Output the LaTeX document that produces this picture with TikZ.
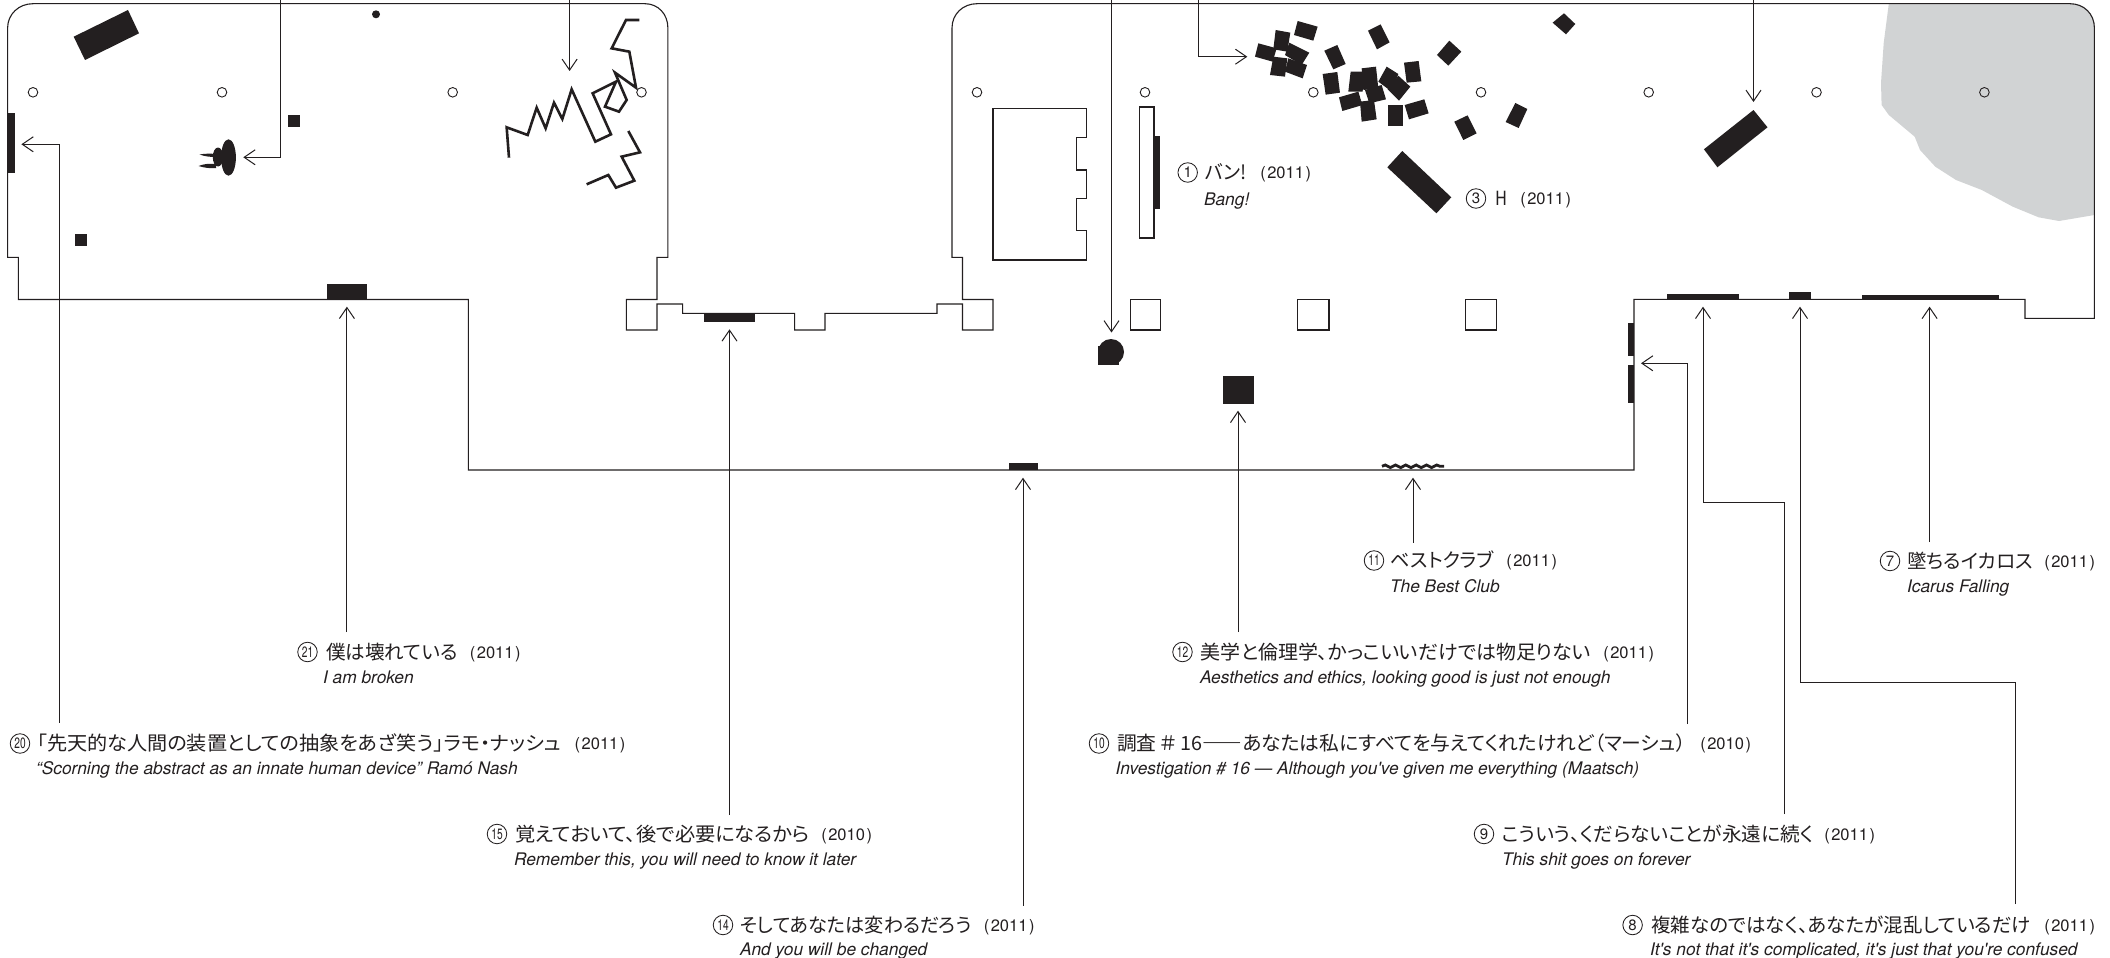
\documentclass[tikz,border=0pt]{standalone}
\usepackage{fontspec}
\usepackage{graphicx}
\usetikzlibrary{arrows.meta,decorations.pathmorphing}
\setmainfont{TeX Gyre Heros}
\newfontfamily\engfont{TeX Gyre Heros}
\newfontfamily\jpfont[RawFeature=+palt]{Noto Sans CJK JP}
\definecolor{ink}{HTML}{231F20}
\definecolor{greyzone}{HTML}{D1D3D4}
\tikzset{
  wall/.style={draw=ink,line width=1.1pt},
  solid block/.style={fill=ink},
  hole/.style={draw=ink,line width=.9pt},
  scribble/.style={draw=ink,line width=2.6pt,line join=miter},
  conn/.style={draw=ink,line width=1pt,-{Straight Barb[length=11pt,width=15pt,line width=1pt]}},
  txt/.style={anchor=base west,inner sep=0pt,outer sep=0pt,text=ink},
  yeartxt/.style={anchor=base east,inner sep=0pt,outer sep=0pt,text=ink},
  numring/.style={circle,draw=ink,line width=.85pt,minimum size=19.5pt,inner sep=0pt,text=ink,font=\engfont\fontsize{15}{15}\selectfont},
}
\newcommand{\nn}[1]{\scalebox{.68}[1]{#1}}
% name, numeral left x, y centre, numeral, japanese, jp left, jp right, year right, year
\newcommand{\worklabel}[9]{%
  \node[numring] (num#1) at (#2+10,#3) {#4};
  \node[txt] (lab#1) at (#6,#3+7) {\resizebox{\dimexpr#7pt-#6pt\relax}{\height}{\jpfont\fontsize{19.5}{20}\selectfont #5}};
  \node[yeartxt] (yr#1) at (#8,#3+6.3) {\engfont\fontsize{16.5}{20}\selectfont (\kern1.5pt #9\kern1.5pt)};
}
\newcommand{\worktrans}[4]{%
  \node[txt] (cap#1) at (#2,#3) {\engfont\itshape\fontsize{17.35}{20}\selectfont #4};
}
\begin{document}
\begin{tikzpicture}[x=1pt,y=-1pt]
\useasboundingbox (0,0) rectangle (2110,958);
\fill[white] (0,0) rectangle (2110,958);
% grey zone
\fill[greyzone] (1888.8,3.7) -- (1883.7,43) -- (1881,83) -- (1881.6,105) -- (1888.8,115) -- (1914.7,136.7) -- (1920,150) -- (1935.3,166.7) -- (1956,180) -- (1981.8,190) -- (2012.8,206.7) -- (2038.6,217.3) -- (2059,221) -- (2094.4,215) -- (2094.4,28) .. controls (2094.4,14) and (2084,3.7) .. (2070,3.7) -- cycle;
% walls
\draw[wall] (7.6,28) .. controls (7.6,14) and (19,3.7) .. (33,3.7) -- (645,3.7) .. controls (658,3.7) and (667.9,14) .. (667.9,28) -- (667.9,257.3) -- (657,257.3) -- (657,299.5) -- (626.3,299.5) -- (626.3,330) -- (657,330) -- (657,304) -- (682.6,304) -- (682.6,313.3) -- (794.6,313.3) -- (794.6,330) -- (825,330) -- (825,313.3) -- (937,313.3) -- (937,304) -- (962.5,304) -- (962.5,330) -- (993,330) -- (993,299.5) -- (962.5,299.5) -- (962.5,257.3) -- (952,257.3) -- (952,28) .. controls (952,14) and (963,3.7) .. (977,3.7) -- (2070,3.7) .. controls (2084,3.7) and (2094.4,14) .. (2094.4,28) -- (2094.4,318.3) -- (2025,318.3) -- (2025,299.3) -- (1634,299.3) -- (1634,470) -- (468.3,470) -- (468.3,299.5) -- (18.3,299.5) -- (18.3,257.3) -- (7.6,257.3) -- cycle;
% inner plan
\draw[wall] (993,108.3) -- (1086.6,108.3) -- (1086.6,137.3) -- (1076.3,137.3) -- (1076.3,170) -- (1086.6,170) -- (1086.6,198.3) -- (1076.3,198.3) -- (1076.3,230.7) -- (1086.6,230.7) -- (1086.6,260) -- (993,260) -- cycle;
\draw[wall] (1139.7,107) rectangle (1154,238);
\draw[wall] (1130.4,299.5) rectangle (1160.7,330);
\draw[wall] (1297.8,299.5) rectangle (1329,330);
\draw[wall] (1465.7,299.5) rectangle (1496.4,330);
% column holes
\foreach \cx in {33,222,452.7,641.5,977,1145,1313.3,1481,1648.7,1816.5,1984.4}
  \draw[hole] (\cx,92.3) circle[radius=4.8];
% solid works
\fill[solid block] (128,10) -- (139,33.3) -- (85,60) -- (73.7,36.7) -- cycle;
\fill[solid block] (376,14.3) circle[radius=4];
\fill[solid block] (288,115) rectangle (300,127);
\fill[solid block] (75,234) rectangle (87,246);
\fill[solid block] (7.6,113) rectangle (15.2,173);
\fill[solid block] (326.8,284) rectangle (367,299.5);
\fill[solid block] (228.5,157.5) ellipse[x radius=7.4,y radius=18.2];
\fill[solid block] (218,157) ellipse[x radius=5.2,y radius=9.5];
\fill[solid block] (199.6,154.5) .. controls (205,153.5) and (210,153.5) .. (216,154) -- (216,157) .. controls (210,157) and (205,156.5) .. (199.6,154.5) -- cycle;
\fill[solid block] (198.5,166) .. controls (205,163.5) and (210,163.5) .. (216,164) -- (216,168) .. controls (210,168.5) and (205,168) .. (198.5,166) -- cycle;
\fill[solid block] (704,313.3) rectangle (755,322);
\fill[solid block] (1154,136) rectangle (1159.8,209);
\fill[solid block] (1111,352) circle[radius=13];
\fill[solid block] (1098.2,345.7) rectangle (1119,365);
\fill[solid block] (1223.2,376) rectangle (1254,404);
\fill[solid block] (1009,463) rectangle (1038,470);
\draw[draw=ink,line width=2.8pt,decorate,decoration={snake,amplitude=1.3pt,segment length=10.3pt}] (1382,466.3) -- (1444,466.3);
\fill[solid block] (1628,322.7) rectangle (1634,356);
\fill[solid block] (1628,365) rectangle (1634,403);
\fill[solid block] (1666.7,294) rectangle (1739,299.3);
\fill[solid block] (1789,292) rectangle (1811,299.3);
\fill[solid block] (1862,295) rectangle (1999,299.3);
\fill[solid block] (1753.5,110) -- (1767.5,127.3) -- (1717.4,167.3) -- (1703.9,149.3) -- cycle;
\fill[solid block] (1402.3,151) -- (1451.3,197.3) -- (1436.4,213.3) -- (1387.3,167.3) -- cycle;
\fill[solid block] (1564,13.3) -- (1575.3,24) -- (1566,34.3) -- (1552.6,22.7) -- cycle;
% scribble
\begin{scope}[x=.33333pt,y=-.33333pt,shift={(1470,30)}]
\draw[scribble] (57,443) -- (50,352) -- (113,375) -- (140,293) -- (167,355) -- (192,278) -- (217,327) -- (245,238) -- (316,395) -- (363,373) -- (308,250) -- (378,215) -- (345,290) -- (387,305) -- (410,270) -- (375,188) -- (438,233) -- (418,125) -- (365,115) -- (408,30) -- (448,30);
\draw[scribble] (415,363) -- (450,427) -- (395,440) -- (433,512) -- (378,533) -- (355,495) -- (290,523);
\end{scope}
% scattered blocks
\begin{scope}[x=.33333pt,y=-.33333pt,shift={(3690,30)}]
\foreach \poly in {
 {(203,33)--(263,50)--(250,92)--(192,75)},
 {(137,60)--(181,68)--(172,125)--(130,118)},
 {(85,100)--(140,115)--(128,155)--(75,140)},
 {(178,98)--(238,128)--(215,165)--(165,135)},
 {(130,140)--(172,145)--(165,200)--(120,195)},
 {(175,145)--(231,165)--(218,205)--(165,185)},
 {(283,122)--(322,105)--(347,162)--(310,178)},
 {(278,192)--(322,186)--(330,248)--(287,254)},
 {(414,62)--(452,43)--(479,97)--(441,118)},
 {(658,92)--(694,125)--(655,167)--(621,135)},
 {(362,185)--(402,185)--(398,245)--(355,245)},
 {(395,175)--(438,170)--(445,235)--(400,240)},
 {(470,170)--(505,192)--(485,245)--(445,215)},
 {(505,197)--(541,230)--(507,272)--(473,238)},
 {(522,158)--(566,153)--(574,214)--(530,218)},
 {(405,240)--(455,225)--(468,268)--(418,280)},
 {(327,262)--(385,245)--(398,285)--(337,303)},
 {(390,275)--(432,270)--(440,328)--(395,335)},
 {(473,285)--(518,285)--(518,348)--(473,348)},
 {(524,285)--(583,268)--(596,310)--(537,328)},
 {(673,335)--(713,316)--(740,370)--(700,390)},
 {(856,279)--(892,297)--(866,354)--(827,336)}
}{\expandafter\fill\expandafter[solid block]\poly -- cycle;}
\fill[white] (143,125) -- (165,128) -- (163,138) -- (142,134) -- cycle;
\fill[white] (390,250) -- (403,248) -- (406,270) -- (393,272) -- cycle;
\end{scope}
% labels
\worklabel{1}{1177.7}{172.5}{1}{バン!}{1205}{1247}{1311}{2011}
\worktrans{1}{1204}{205}{Bang!}
\worklabel{3}{1466}{198.5}{3}{H}{1495}{1507}{1571}{2011}
\worklabel{11}{1364}{560.5}{\nn{11}}{ベストクラブ}{1390.6}{1494}{1557}{2011}
\worktrans{11}{1390}{592.5}{The Best Club}
\worklabel{7}{1880}{561}{7}{墜ちるイカロス}{1907}{2033}{2095}{2011}
\worktrans{7}{1907}{592.5}{Icarus Falling}
\worklabel{21}{297.5}{652}{\nn{21}}{僕は壊れている}{326}{457.7}{520.6}{2011}
\worktrans{21}{323}{683}{I am broken}
\worklabel{12}{1172.5}{652}{\nn{12}}{美学と倫理学、かっこいいだけでは物足りない}{1200.7}{1591}{1654}{2011}
\worktrans{12}{1200}{683}{Aesthetics and ethics, looking good is just not enough}
\worklabel{20}{10}{743.5}{\nn{20}}{「先天的な人間の装置としての抽象をあざ笑う」ラモ・ナッシュ}{37}{561}{625.4}{2011}
\worktrans{20}{36}{774}{“Scorning the abstract as an innate human device” Ramó Nash}
\worklabel{10}{1089}{743.5}{\nn{10}}{調査\hspace{4pt}＃\hspace{4pt}16{\bfseries ――}あなたは私にすべてを与えてくれたけれど（マーシュ）}{1117}{1686}{1751}{2010}
\worktrans{10}{1115.6}{774}{Investigation \# 16 — Although you've given me everything (Maatsch)}
\worklabel{15}{487}{834}{\nn{15}}{覚えておいて、後で必要になるから}{515}{810}{872}{2010}
\worktrans{15}{514}{865}{Remember this, you will need to know it later}
\worklabel{9}{1474}{834}{9}{こういう、くだらないことが永遠に続く}{1502}{1813.5}{1875}{2011}
\worktrans{9}{1502}{865}{This shit goes on forever}
\worklabel{14}{713}{925}{\nn{14}}{そしてあなたは変わるだろう}{740}{971.6}{1034.5}{2011}
\worktrans{14}{740}{955}{And you will be changed}
\worklabel{8}{1622.6}{925}{8}{複雑なのではなく、あなたが混乱しているだけ}{1651.4}{2031}{2095}{2011}
\worktrans{8}{1650}{955}{It's not that it's complicated, it's just that you're confused}
% connector end points
\foreach \nm/\px/\py in {
 t1/280.4/0, h1/243.3/157.3, e1/280.4/157.3,
 t2/569.6/0, h2/569.6/71,
 s20/59/722.7, e20/59/144.3, h20/21.4/144.3,
 s21/346.9/632, h21/346.9/306.7,
 s15/729.5/815, h15/729.5/329.3,
 s14/1023/905.7, h14/1023/477.7,
 s12/1238/632, h12/1238/410.7,
 s11/1413/542.7, h11/1413/477.7,
 s10/1687.6/724, e10/1687.6/363.3, h10/1641/363.3,
 s9/1784.7/814, e9a/1784.7/502, e9b/1703/502, h9/1703/306.7,
 s8/2015.8/904, e8a/2015.8/682.7, e8b/1800/682.7, h8/1800/306.7,
 s7/1929.6/542, h7/1929.6/306.7,
 t3/1111.5/0, h3/1111.5/332.5,
 t4/1198/0, e4/1198/56.7, h4/1247.3/56.7,
 t5/1753.5/0, h5/1753.5/102}
  {\coordinate (\nm) at (\px,\py);}
\draw[conn] (t1) -- (e1) -- (h1);
\draw[conn] (t2) -- (h2);
\draw[conn] (s20) -- (e20) -- (h20);
\draw[conn] (s21) -- (h21);
\draw[conn] (s15) -- (h15);
\draw[conn] (s14) -- (h14);
\draw[conn] (s12) -- (h12);
\draw[conn] (s11) -- (h11);
\draw[conn] (s10) -- (e10) -- (h10);
\draw[conn] (s9) -- (e9a) -- (e9b) -- (h9);
\draw[conn] (s8) -- (e8a) -- (e8b) -- (h8);
\draw[conn] (s7) -- (h7);
\draw[conn] (t3) -- (h3);
\draw[conn] (t4) -- (e4) -- (h4);
\draw[conn] (t5) -- (h5);
\end{tikzpicture}
\end{document}
